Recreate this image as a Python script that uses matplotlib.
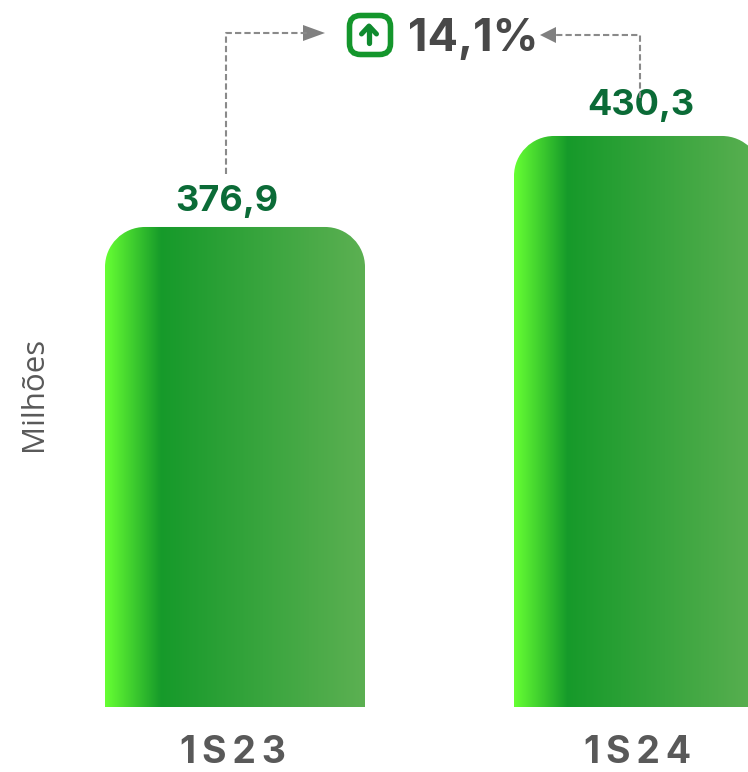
import numpy as np
import matplotlib
matplotlib.use("Agg")
import matplotlib.pyplot as plt
from matplotlib.path import Path
from matplotlib.patches import PathPatch, FancyBboxPatch
from matplotlib.colors import LinearSegmentedColormap

periods = ["1S23", "1S24"]
values = [376.9, 430.3]
value_labels = ["376,9", "430,3"]
change_label = "14,1%"
unit_label = "Milhões"

W, H = 748, 772
Y_BASE = 95.2
PX_PER_UNIT = 1.704
BASE_PX = 707
fig = plt.figure(figsize=(W / 100, H / 100), dpi=100)
ax = fig.add_axes([0, 0, 1, 1])
ax.set_xlim(-235 / 409, (W - 235) / 409)
ax.set_ylim(Y_BASE - (H - BASE_PX) / PX_PER_UNIT, Y_BASE + BASE_PX / PX_PER_UNIT)
ax.axis("off")

cmap = LinearSegmentedColormap.from_list("g", [(0, "#66ff33"), (0.215, "#169a2a"), (1, "#5cb052")])
grad = np.linspace(0, 1, 512)[None, :]
R = 40

overlay = fig.add_axes([0, 0, 1, 1], facecolor="none")
overlay.axis("off")

bar_w = 260 / 409
for i, v in enumerate(values):
    x0 = ax.transData.transform((i - bar_w / 2, 0))[0]
    x1 = ax.transData.transform((i + bar_w / 2, 0))[0]
    y0 = H - ax.transData.transform((0, Y_BASE))[1]
    y1 = H - ax.transData.transform((0, v))[1]
    if i == 1:
        x1 = 762
    k = 0.5523 * R
    verts = [(x0, y0), (x0, y1 + R), (x0, y1 + R - k), (x0 + R - k, y1), (x0 + R, y1),
             (x1 - R, y1), (x1 - R + k, y1), (x1, y1 + R - k), (x1, y1 + R), (x1, y0), (x0, y0)]
    codes = [Path.MOVETO, Path.LINETO, Path.CURVE4, Path.CURVE4, Path.CURVE4,
             Path.LINETO, Path.CURVE4, Path.CURVE4, Path.CURVE4, Path.LINETO, Path.CLOSEPOLY]
    patch = PathPatch(Path(verts, codes), fc="none", ec="none")
    overlay.add_patch(patch)
    im = overlay.imshow(grad, cmap=cmap, extent=(x0, x1, y0, y1), aspect="auto", zorder=1)
    im.set_clip_path(patch)
    overlay.text([227, 641][i], [201, 105][i], value_labels[i], color="#0b6b37", fontsize=26,
                 fontweight="bold", family="Inter", ha="center", va="center", zorder=3)
    overlay.text([233, 638][i], 753, "\u2009".join(periods[i]),
                 color="#595959", fontsize=27, fontweight="bold", family="Inter", ha="center", va="center")

overlay.set_xlim(0, W)
overlay.set_ylim(H, 0)

overlay.text(34, 394, unit_label, rotation=90, color="#595959", fontsize=22.5, family="Open Sans",
             ha="center", va="center")
overlay.text(473, 39, change_label, color="#484848", fontsize=32.5, fontweight="bold", family="Inter",
             ha="center", va="center")

dash = dict(color="#8a8a8a", lw=1.5, ls=(0, (3, 1.5)), zorder=4)
overlay.plot([226, 226, 308], [174, 33, 33], **dash)
overlay.plot([640, 640, 555], [98, 35, 35], **dash)
overlay.fill([303, 325, 303], [25, 33, 41], color="#808080", lw=0)
overlay.fill([556, 540, 556], [27, 35, 43], color="#808080", lw=0)

overlay.add_patch(FancyBboxPatch((349.5, 15.5), 41, 39, boxstyle="round,pad=0,rounding_size=11",
                                 fc="white", ec="#14962c", lw=4))
overlay.plot([361.5, 369, 376.5], [34, 26, 34], color="#0f8a2e", lw=3.6, solid_capstyle="round",
             solid_joinstyle="round")
overlay.plot([369, 369], [27, 43], color="#0f8a2e", lw=3.8, solid_capstyle="round")

fig.savefig("out.png", dpi=100)
